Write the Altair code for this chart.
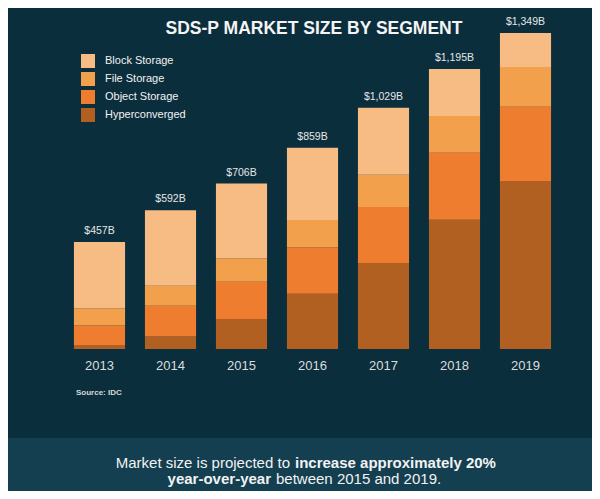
import altair as alt
import pandas as pd

years = ["2013", "2014", "2015", "2016", "2017", "2018", "2019"]
segments = ["Block Storage", "File Storage", "Object Storage", "Hyperconverged"]
seg_colors = ["#f7bb84", "#f2a04b", "#ee7d30", "#b25f22"]
hyperconverged = [17, 53, 128, 236, 367, 552, 717]
object_storage = [83, 132, 159, 198, 239, 286, 317]
file_storage = [74, 85, 100, 117, 138, 156, 169]
block_storage = [283, 322, 319, 308, 285, 201, 146]
totals = [457, 592, 706, 859, 1029, 1195, 1349]
total_labels = ["$457B", "$592B", "$706B", "$859B", "$1,029B", "$1,195B", "$1,349B"]

FONT = "Liberation Sans"
BG = "#0b2e3d"
BAND = "#133f50"

series = {
    "Hyperconverged": hyperconverged,
    "Object Storage": object_storage,
    "File Storage": file_storage,
    "Block Storage": block_storage,
}
stack_rank = {"Hyperconverged": 0, "Object Storage": 1, "File Storage": 2, "Block Storage": 3}
rows = []
for seg, vals in series.items():
    for y, v in zip(years, vals):
        rows.append({"year": y, "segment": seg, "value": v, "rank": stack_rank[seg]})
df = pd.DataFrame(rows)
tot = pd.DataFrame({"year": years, "total": totals, "label": total_labels})

x_enc = alt.X("year:N", sort=years, title=None,
              scale=alt.Scale(paddingInner=0.28, paddingOuter=0.14),
              axis=alt.Axis(domain=False, ticks=False, labelPadding=10, labelFontSize=13,
                            labelColor="#dcdcdc", labelFont=FONT, labelAngle=0))
y_scale = alt.Scale(domain=[0, 1404], nice=False, zero=True)

band = alt.Chart(alt.Data(values=[{}])).mark_rect(color=BAND).encode(
    x=alt.value(-70), x2=alt.value(545), y=alt.value(418), y2=alt.value(480)
)

bars = alt.Chart(df).mark_bar().encode(
    x=x_enc,
    y=alt.Y("value:Q", stack="zero", scale=y_scale, axis=None),
    color=alt.Color("segment:N", scale=alt.Scale(domain=segments, range=seg_colors),
                    legend=alt.Legend(title=None, orient="none", legendX=17, legendY=34,
                                      symbolType="square", symbolSize=196,
                                      symbolStrokeWidth=0, symbolOpacity=1,
                                      labelFontSize=11, labelColor="#f2f2f2", labelFont=FONT,
                                      rowPadding=4, labelOffset=10)),
    order=alt.Order("rank:Q", sort="ascending"),
)

labels = alt.Chart(tot).mark_text(fontSize=10.5, font=FONT, color="#e6e6e6", dy=-8,
                                  baseline="alphabetic").encode(
    x=alt.X("year:N", sort=years),
    y=alt.Y("total:Q", scale=y_scale),
    text="label:N",
)

def note(txt, x, y, size, weight="normal", align="left", color="#f2f2f2"):
    return alt.Chart(alt.Data(values=[{}])).mark_text(
        text=txt, fontSize=size, fontWeight=weight, align=align, font=FONT,
        color=color, baseline="alphabetic"
    ).encode(x=alt.value(x), y=alt.value(y))

title = note("SDS-P MARKET SIZE BY SEGMENT", 250, 14, 17.5, "bold", "center", "#f4f4f4")
source = note("Source: IDC", 12, 375, 8, "bold", "left", "#d8d8d8")
l1a = note("Market size is projected to", 226, 448, 15, "normal", "right")
l1b = note("increase approximately 20%", 231, 448, 15, "bold", "left")
l2a = note("year-over-year", 207, 464, 15, "bold", "right")
l2b = note("between 2015 and 2019.", 212, 464, 15, "normal", "left")

chart = alt.layer(band, bars, labels, title, source, l1a, l1b, l2a, l2b).properties(
    width=497, height=329,
    autosize=alt.AutoSizeParams(type="none"),
    padding={"left": 56, "top": 12, "right": 31, "bottom": 142},
).configure(background=BG).configure_view(stroke=None)

chart.save("out.html", embed_options={"renderer": "svg", "actions": False})
